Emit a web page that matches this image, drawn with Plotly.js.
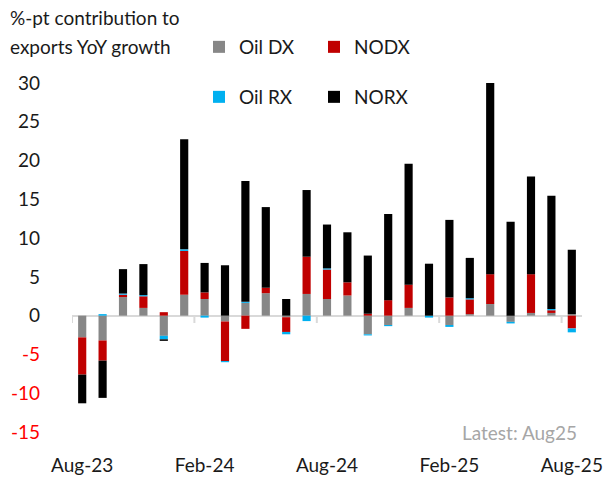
<!DOCTYPE html>
<html>
<head>
<meta charset="utf-8">
<script src="https://cdn.plot.ly/plotly-3.0.1.min.js"></script>
<style>html,body{margin:0;padding:0;background:#fff;}#chart{width:606px;height:481px;}</style>
</head>
<body>
<div id="chart"></div>
<script>
const months = ["Aug-23","Sep-23","Oct-23","Nov-23","Dec-23","Jan-24","Feb-24","Mar-24","Apr-24","May-24","Jun-24","Jul-24","Aug-24","Sep-24","Oct-24","Nov-24","Dec-24","Jan-25","Feb-25","Mar-25","Apr-25","May-25","Jun-25","Jul-25","Aug-25"];
const oilDX = [-2.8,-3.2,2.4,1.0,-2.6,2.7,2.15,-0.75,1.65,2.9,-0.2,2.8,2.15,2.6,-2.4,-1.2,1.0,0.0,-1.2,0.2,1.5,-0.8,0.35,0.35,0.2];
const nodx  = [-4.8,-2.6,0.3,1.5,0.45,5.65,0.85,-5.1,-1.7,0.7,-1.9,4.8,3.8,1.7,0.25,2.0,3.0,0.0,2.35,1.9,3.85,0.0,5.0,0.35,-1.65];
const oilRX = [0.0,0.2,0.15,0.15,-0.45,0.2,-0.25,-0.15,0.15,0.0,-0.3,-0.7,0.15,0.0,-0.15,-0.15,0.0,-0.25,-0.25,0.15,0.0,-0.2,0.0,0.15,-0.5];
const norx  = [-3.7,-4.8,3.15,4.0,-0.2,14.2,3.8,6.5,15.55,10.4,2.15,8.6,5.65,6.45,7.5,11.1,15.6,6.7,10.0,5.2,24.9,12.1,12.6,14.6,8.3];
const xTickLabels = ["Aug-23","Feb-24","Aug-24","Feb-25","Aug-25"];
const yTickVals = [-15,-10,-5,0,5,10,15,20,25,30];

const font = "Lato, 'Liberation Sans', sans-serif";
const txt = "#1a1a1a";

function bar(name, y, color, legend) {
  return {type:"bar", name:name, x:months, y:y, marker:{color:color, line:{width:0}}, legend:legend, hoverinfo:"skip"};
}
const data = [
  bar("Oil DX", oilDX, "#878787", "legend"),
  bar("NODX", nodx, "#c00000", "legend"),
  bar("Oil RX", oilRX, "#00b0f0", "legend2"),
  bar("NORX", norx, "#000000", "legend2")
];

const yTickText = yTickVals.map(v => v < 0 ? '<span style="color:#ff0000">' + v + '</span>' : String(v));

const shapes = xTickLabels.map(l => {
  const i = months.indexOf(l);
  return {type:"line", xref:"x", yref:"y", x0:i-0.5, x1:i-0.5, y0:0, y1:-0.95, line:{color:"#d9d9d9", width:2}};
});

const legendBase = {orientation:"h", x:(199-72)/510, xanchor:"left", yanchor:"middle", xref:"paper", yref:"paper",
  font:{family:font, size:19, color:txt}, itemwidth:30, entrywidth:70, tracegroupgap:0, bgcolor:"rgba(0,0,0,0)"};

const layout = {
  width:606, height:481,
  margin:{l:72, r:24, t:83, b:49, pad:0},
  paper_bgcolor:"#fff", plot_bgcolor:"#fff",
  barmode:"relative", bargap:0.6,
  font:{family:font, size:19, color:txt},
  showlegend:true,
  legend:Object.assign({}, legendBase, {y:1 + (83-47)/349}),
  legend2:Object.assign({}, legendBase, {y:1 + (83-97)/349}),
  xaxis:{type:"category", range:[-0.5, months.length-0.5], tickmode:"array", tickvals:xTickLabels, ticktext:xTickLabels,
         showgrid:false, showline:false, zeroline:false, ticks:"", ticklabelstandoff:20, tickangle:0,
         tickfont:{family:font, size:19, color:txt}, fixedrange:true},
  yaxis:{range:[-15,30], tickmode:"array", tickvals:yTickVals, ticktext:yTickText, showgrid:false, showline:false,
         zeroline:true, zerolinecolor:"#d9d9d9", zerolinewidth:2, ticks:"", ticklabelstandoff:31,
         tickfont:{family:font, size:19, color:txt}, fixedrange:true},
  shapes:shapes,
  annotations:[
    {text:"%-pt contribution to", xref:"paper", yref:"paper", x:-64/510, y:1+(83-18)/349, xanchor:"left", yanchor:"middle", showarrow:false, font:{family:font, size:19, color:txt}},
    {text:"exports YoY growth", xref:"paper", yref:"paper", x:-64/510, y:1+(83-47)/349, xanchor:"left", yanchor:"middle", showarrow:false, font:{family:font, size:19, color:txt}},
    {text:"Latest: Aug25", xref:"paper", yref:"paper", x:(579-72)/510, y:0.0, xanchor:"right", yanchor:"middle", showarrow:false, font:{family:font, size:19, color:"#a6a6a6"}}
  ]
};

Plotly.newPlot("chart", data, layout, {displayModeBar:false, staticPlot:true});
</script>
</body>
</html>
